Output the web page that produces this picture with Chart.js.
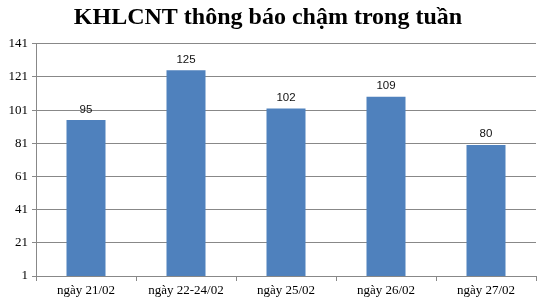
<!DOCTYPE html>
<html>
<head>
<meta charset="utf-8">
<script src="https://cdn.jsdelivr.net/npm/chart.js@4/dist/chart.umd.min.js"></script>
<style>
html,body{margin:0;padding:0;background:#fff;}
#wrap{width:541px;height:304px;}
</style>
</head>
<body>
<div id="wrap"><canvas id="c" width="541" height="304"></canvas></div>
<script>
const categories = ["ngày 21/02", "ngày 22-24/02", "ngày 25/02", "ngày 26/02", "ngày 27/02"];
const values = [95, 125, 102, 109, 80];
const yMin = 1, yMax = 141, yStep = 20;
const titleText = "KHLCNT thông báo chậm trong tuần";

const labelPlugin = {
  id: 'barLabels',
  afterDatasetsDraw(chart) {
    const ctx = chart.ctx;
    const meta = chart.getDatasetMeta(0);
    ctx.save();
    ctx.font = '11.5px "Liberation Sans", Arial, sans-serif';
    ctx.fillStyle = '#111';
    ctx.textAlign = 'center';
    ctx.textBaseline = 'bottom';
    meta.data.forEach((bar, i) => {
      ctx.fillText(String(values[i]), bar.x, bar.y - 5);
    });
    ctx.restore();
  }
};

new Chart(document.getElementById('c'), {
  type: 'bar',
  data: {
    labels: categories,
    datasets: [{
      data: values,
      backgroundColor: '#4F81BD',
      borderWidth: 0,
      barPercentage: 0.39,
      categoryPercentage: 1.0
    }]
  },
  options: {
    responsive: false,
    animation: false,
    devicePixelRatio: 1,
    layout: { padding: { left: 0, right: 5, top: 0, bottom: 0 } },
    plugins: {
      legend: { display: false },
      tooltip: { enabled: false },
      title: {
        display: true,
        text: titleText,
        color: '#000',
        font: { family: '"Liberation Serif", "Times New Roman", serif', size: 24, weight: 'bold' },
        padding: { top: 3, bottom: 12 }
      }
    },
    scales: {
      x: {
        offset: true,
        grid: { display: true, drawOnChartArea: false, offset: true, color: '#888', tickLength: 5 },
        border: { display: true, color: '#888' },
        ticks: {
          color: '#000',
          font: { family: '"Liberation Serif", "Times New Roman", serif', size: 13 },
          padding: 2,
          maxRotation: 0
        },
        afterFit(scale) { scale.height = 28; }
      },
      y: {
        min: yMin,
        max: yMax,
        grid: { color: '#888', tickLength: 4 },
        border: { display: true, color: '#888' },
        ticks: {
          stepSize: yStep,
          color: '#000',
          font: { family: '"Liberation Serif", "Times New Roman", serif', size: 13 },
          padding: 4
        },
        afterFit(scale) { scale.width = 36; }
      }
    }
  },
  plugins: [labelPlugin]
});
</script>
</body>
</html>
